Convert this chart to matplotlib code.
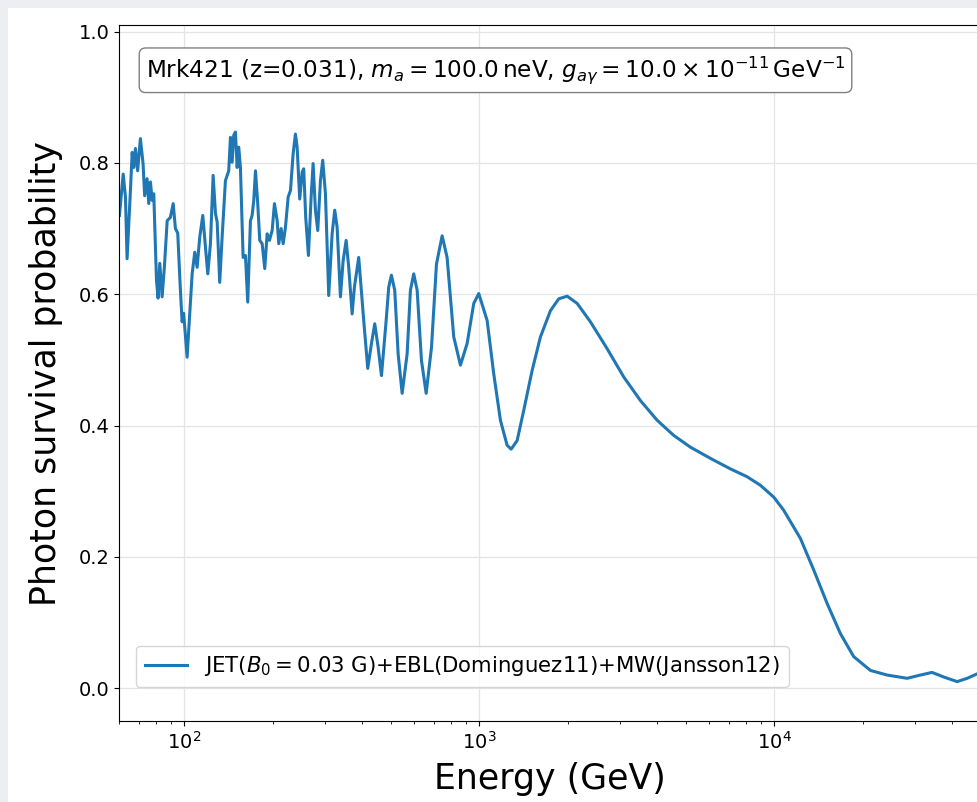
import numpy as np
import matplotlib
matplotlib.use("Agg")
import matplotlib.pyplot as plt

# Energy (GeV) and photon survival probability
energy = [
    60.2, 62.0, 63.1, 63.9, 65.6, 66.5, 67.3, 68.2, 69.4, 70.9,
    72.4, 73.3, 74.7, 75.7, 76.7, 77.7, 78.7, 80.4, 81.4, 82.5,
    84.0, 85.5, 87.4, 89.6, 91.6, 93.2, 94.9, 96.9, 98.2, 99.4,
    102.1, 106.2, 108.4, 110.4, 112.7, 115.4, 117.8, 120.0, 122.5, 125.1,
    127.4, 129.1, 131.7, 134.2, 137.7, 141.3, 143.2, 145.1, 146.9, 148.9,
    150.9, 152.8, 154.8, 158.1, 161.0, 163.9, 167.4, 169.6, 171.8, 174.1,
    177.2, 180.0, 183.4, 187.2, 190.7, 194.1, 198.3, 201.9, 206.2, 208.8,
    212.7, 216.1, 220.0, 224.7, 228.8, 233.6, 237.8, 241.0, 245.9, 250.6,
    253.7, 257.7, 263.2, 268.8, 273.0, 278.0, 283.1, 289.1, 294.3, 300.6,
    308.4, 316.7, 323.2, 329.3, 337.9, 345.1, 353.3, 360.5, 370.2, 376.9,
    389.7, 405.3, 418.2, 430.5, 441.7, 453.6, 465.5, 482.8, 492.7, 503.1,
    516.3, 530.2, 547.0, 568.7, 583.5, 598.8, 615.0, 636.1, 659.8, 687.8,
    715.1, 747.4, 777.0, 818.3, 862.2, 908.4, 956.6, 994.6, 1062, 1118,
    1178, 1241, 1281, 1342, 1413, 1509, 1610, 1741, 1857, 1983,
    2144, 2378, 2710, 3084, 3514, 4004, 4556, 5192, 6068, 7092,
    8082, 8964, 9945, 10750, 12250, 13590, 15090, 16740, 18570, 21160,
    24100, 28170, 31250, 34240, 37490, 41630, 45010, 48770, 50000,
]
prob = [
    0.720, 0.783, 0.748, 0.654, 0.758, 0.816, 0.793, 0.822, 0.788, 0.837,
    0.799, 0.750, 0.776, 0.738, 0.771, 0.743, 0.753, 0.621, 0.594, 0.647,
    0.596, 0.641, 0.712, 0.717, 0.738, 0.700, 0.693, 0.606, 0.558, 0.571,
    0.504, 0.631, 0.664, 0.641, 0.687, 0.720, 0.672, 0.631, 0.677, 0.781,
    0.723, 0.710, 0.618, 0.687, 0.773, 0.788, 0.839, 0.801, 0.842, 0.847,
    0.793, 0.824, 0.793, 0.656, 0.659, 0.588, 0.712, 0.720, 0.743, 0.788,
    0.738, 0.682, 0.677, 0.639, 0.692, 0.682, 0.697, 0.738, 0.712, 0.677,
    0.700, 0.677, 0.702, 0.748, 0.758, 0.814, 0.844, 0.824, 0.745, 0.786,
    0.791, 0.717, 0.659, 0.748, 0.799, 0.728, 0.697, 0.773, 0.804, 0.753,
    0.598, 0.692, 0.728, 0.702, 0.596, 0.651, 0.682, 0.641, 0.570, 0.611,
    0.656, 0.560, 0.487, 0.525, 0.555, 0.519, 0.476, 0.560, 0.611, 0.629,
    0.606, 0.509, 0.449, 0.509, 0.606, 0.631, 0.606, 0.499, 0.449, 0.519,
    0.646, 0.689, 0.656, 0.535, 0.492, 0.525, 0.586, 0.601, 0.560, 0.479,
    0.408, 0.370, 0.364, 0.377, 0.423, 0.484, 0.535, 0.575, 0.593, 0.597,
    0.586, 0.558, 0.517, 0.474, 0.438, 0.408, 0.385, 0.367, 0.350, 0.334,
    0.322, 0.309, 0.291, 0.271, 0.228, 0.180, 0.129, 0.083, 0.048, 0.027,
    0.020, 0.015, 0.020, 0.024, 0.017, 0.010, 0.015, 0.022, 0.024,
]

info_text = (r"Mrk421 (z=0.031), $m_a = 100.0\,\mathrm{neV}$, "
             r"$g_{a\gamma} = 10.0 \times 10^{-11}\,\mathrm{GeV}^{-1}$")
line_label = r"JET($B_0 = 0.03$ G)+EBL(Dominguez11)+MW(Jansson12)"

fig = plt.figure(figsize=(9.77, 8.02), dpi=100, facecolor="#eceef1")
# white page behind the plot (screenshot look)
fig.patches.append(plt.Rectangle((0.008, 0), 1.0, 0.99, transform=fig.transFigure,
                                 facecolor="white", edgecolor="none", zorder=-1))

ax = fig.add_axes([0.1218, 0.101, 0.8819, 0.8678])
ax.plot(energy, prob, color="#1f77b4", lw=2.2, label=line_label)

ax.set_xscale("log")
ax.set_xlim(60, 5e4)
ax.set_ylim(-0.05, 1.01)
ax.set_yticks([0.0, 0.2, 0.4, 0.6, 0.8, 1.0])
ax.grid(True, color="#e4e4e4", lw=0.9)
ax.set_axisbelow(True)

ax.tick_params(labelsize=14)
ax.set_xlabel("Energy (GeV)", fontsize=25, labelpad=7)
ax.set_ylabel("Photon survival probability", fontsize=25, labelpad=11)

ax.text(0.031, 0.935, info_text, transform=ax.transAxes, fontsize=16.7, va="center",
        bbox=dict(boxstyle="round,pad=0.28", facecolor="white", edgecolor="gray"))

ax.legend(loc="lower left", bbox_to_anchor=(0.02, 0.049), borderaxespad=0,
          fontsize=15.3)

fig.savefig("out.png", dpi=100, facecolor=fig.get_facecolor())
